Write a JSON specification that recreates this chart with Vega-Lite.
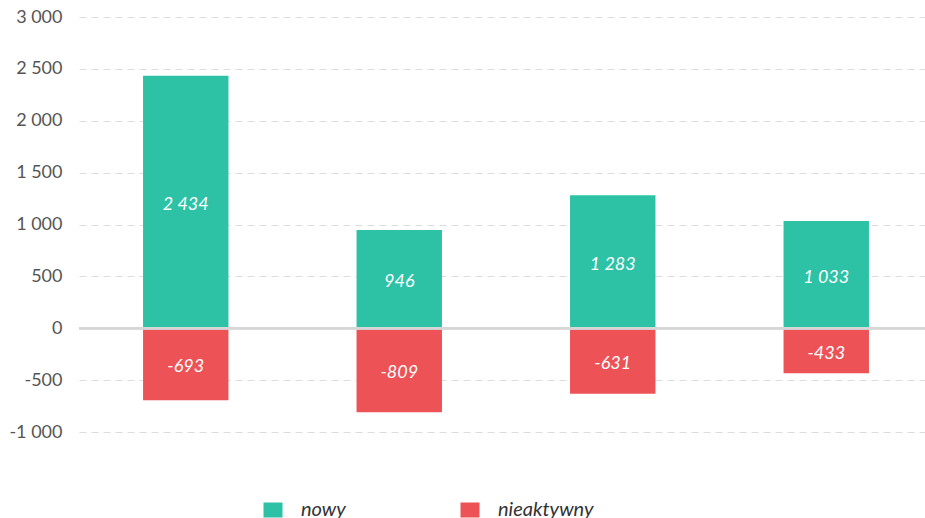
{
  "$schema": "https://vega.github.io/schema/vega-lite/v6.json",
  "autosize": {"type": "none"},
  "width": 854,
  "height": 415,
  "padding": {"left": 79, "top": 17, "right": 0, "bottom": 86},
  "background": "#ffffff",
  "data": {
    "values": [
      {"okres": "1", "typ": "nowy", "wartosc": 2434},
      {"okres": "1", "typ": "nieaktywny", "wartosc": -693},
      {"okres": "2", "typ": "nowy", "wartosc": 946},
      {"okres": "2", "typ": "nieaktywny", "wartosc": -809},
      {"okres": "3", "typ": "nowy", "wartosc": 1283},
      {"okres": "3", "typ": "nieaktywny", "wartosc": -631},
      {"okres": "4", "typ": "nowy", "wartosc": 1033},
      {"okres": "4", "typ": "nieaktywny", "wartosc": -433}
    ]
  },
  "layer": [
    {
      "mark": {"type": "bar"},
      "encoding": {
        "x": {
          "field": "okres",
          "type": "nominal",
          "axis": null,
          "scale": {"paddingInner": 0.6, "paddingOuter": 0.3}
        },
        "y": {
          "field": "wartosc",
          "type": "quantitative",
          "stack": "zero",
          "scale": {"domain": [-1000, 3000], "nice": false},
          "axis": {
            "values": [-1000, -500, 0, 500, 1000, 1500, 2000, 2500, 3000],
            "title": null,
            "domain": false,
            "ticks": false,
            "tickSize": 0,
            "labelPadding": 17,
            "labelFont": "Lato",
            "labelFontSize": 18,
            "labelColor": "#555555",
            "grid": true,
            "gridColor": "#dddddd",
            "gridDash": [7, 5],
            "gridWidth": 1
          }
        },
        "color": {
          "field": "typ",
          "type": "nominal",
          "scale": {"domain": ["nowy", "nieaktywny"], "range": ["#2dc2a5", "#ec5256"]},
          "legend": {
            "orient": "none",
            "legendX": 184,
            "legendY": 483,
            "direction": "horizontal",
            "title": null,
            "symbolType": "M-1,-0.79H1V0.79H-1Z",
            "symbolSize": 361,
            "symbolStrokeWidth": 0,
            "symbolOpacity": 1,
            "labelFont": "Lato",
            "labelFontStyle": "italic",
            "labelFontSize": 20,
            "labelColor": "#333333",
            "labelOffset": 18,
            "columnPadding": 114
          }
        }
      }
    },
    {
      "mark": {"type": "rule", "color": "#d6d6d6", "strokeWidth": 2},
      "encoding": {"y": {"datum": 0, "type": "quantitative"}}
    },
    {
      "mark": {
        "type": "text",
        "font": "Lato",
        "fontStyle": "italic",
        "fontSize": 18,
        "color": "#ffffff",
        "baseline": "middle",
        "align": "center",
        "dy": 3
      },
      "encoding": {
        "x": {"field": "okres", "type": "nominal"},
        "y": {"field": "wartosc", "type": "quantitative", "stack": "zero", "bandPosition": 0.5},
        "detail": {"field": "typ", "type": "nominal"},
        "text": {"field": "wartosc", "type": "quantitative", "format": ",d"}
      }
    }
  ],
  "config": {
    "view": {"stroke": null},
    "locale": {
      "number": {
        "decimal": ",",
        "thousands": " ",
        "grouping": [3],
        "currency": ["", ""],
        "minus": "-"
      }
    }
  }
}
